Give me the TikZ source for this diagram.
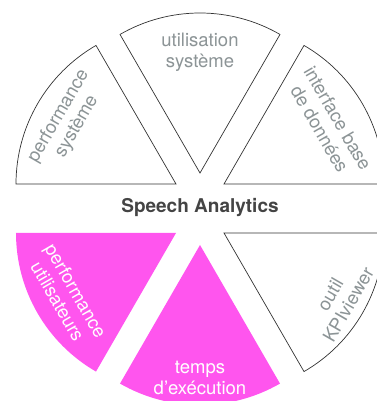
\documentclass[tikz,border=0pt]{standalone}
\usepackage{fontspec}
\setmainfont{TeX Gyre Heros}
\definecolor{secpink}{HTML}{FF55EE}
\definecolor{labgray}{HTML}{8C9496}
\definecolor{titlegray}{HTML}{444444}

\begin{document}
\begin{tikzpicture}[x=1pt, y=1pt,
  part/.style={draw=black!80, line width=0.7pt, fill=white},
  hot/.style={fill=secpink},
  lab/.style={align=center, text=labgray, inner sep=0pt, font=\fontsize{18.5}{21}\selectfont},
  hotlab/.style={lab, text=white}]
\useasboundingbox (-200,-192.5) rectangle (176,208.5);

\coordinate (ul) at (-24,24.5);
\coordinate (um) at (0,35.5);
\coordinate (ur) at (24,24.5);
\coordinate (ll) at (-24,-24.5);
\coordinate (lm) at (0,-36.5);
\coordinate (lr) at (24,-24.5);

\draw[part] (ul) -- ++(180:160) arc (180:120:160) -- cycle;
\draw[part] (um) -- ++(120:160) arc (120:60:160) -- cycle;
\draw[part] (ur) -- ++(60:160) arc (60:0:160) -- cycle;
\fill[hot] (ll) -- ++(180:160) arc (180:240:160) -- cycle;
\fill[hot] (lm) -- ++(240:160) arc (240:300:160) -- cycle;
\draw[part] (lr) -- ++(300:160) arc (300:360:160) -- cycle;

\node[lab, rotate=60] (perfsys) at ([shift={(150:125)}]ul) {performance\\système};
\node[lab] (utilsys) at ([shift={(90:121)}]um) {utilisation\\système};
\node[lab, rotate=-60] (interface) at ([shift={(30:121)}]ur) {interface base\\de données};
\node[hotlab, rotate=-60] (perfuser) at ([shift={(210:126)}]ll) {performance\\utilisateurs};
\node[hotlab] (exectime) at ([shift={(270:133)}]lm) {temps\\d’exécution};
\node[lab, rotate=60] (kpiviewer) at ([shift={(330:133)}]lr) {outil\\KPIviewer};

\node[text=titlegray, font=\fontsize{19}{22}\selectfont\bfseries] (title) at (0,1) {Speech Analytics};
\end{tikzpicture}
\end{document}
